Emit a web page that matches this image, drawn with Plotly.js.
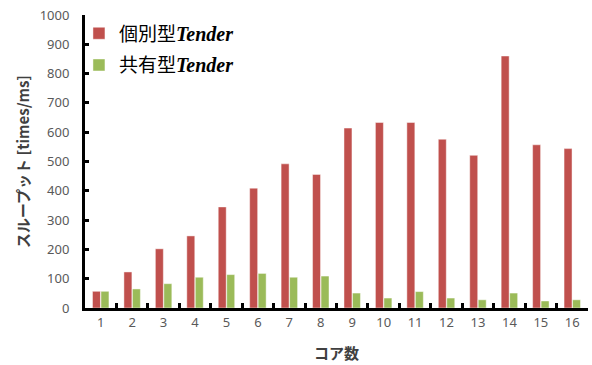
<!DOCTYPE html>
<html>
<head>
<meta charset="utf-8">
<script src="https://cdn.plot.ly/plotly-3.0.1.min.js"></script>
<style>
  html, body { margin: 0; padding: 0; background: #fff; }
  #chart { width: 592px; height: 365px; }
</style>
</head>
<body>
<div id="chart"></div>
<script>
// Core counts on the x axis
const cores = ['1','2','3','4','5','6','7','8','9','10','11','12','13','14','15','16'];
// Throughput [times/ms] for each Tender arrangement
const separateTender = [57, 123, 202, 246, 345, 409, 492, 456, 614, 633, 633, 576, 521, 860, 557, 544];
const sharedTender   = [57, 65, 83, 105, 114, 118, 105, 109, 51, 34, 56, 34, 28, 51, 24, 28];

const tenderWord = '<span style="font-family:\'Liberation Serif\', serif;font-size:20px"><b><i>Tender</i></b></span>';
const seriesNames = ['個別型' + tenderWord, '共有型' + tenderWord];

const tickFont = { family: 'Noto Sans, sans-serif', size: 13, color: '#595959' };
const titleFont = { family: 'Noto Sans CJK JP, sans-serif', size: 15, color: '#404040', weight: 'bold' };

const traces = [
  {
    type: 'bar', name: seriesNames[0], x: cores, y: separateTender, legendgroup: 'separate',
    marker: { color: '#C0504D', line: { color: 'rgba(255,255,255,0.45)', width: 1 } }
  },
  {
    type: 'bar', name: seriesNames[1], x: cores, y: sharedTender, legendgroup: 'shared',
    marker: { color: '#9BBB59', line: { color: 'rgba(255,255,255,0.45)', width: 1 } }
  }
];

const layout = {
  width: 592, height: 365,
  margin: { l: 85, r: 4, t: 15, b: 57 },
  paper_bgcolor: '#fff', plot_bgcolor: '#fff',
  barmode: 'group', bargap: 0.46, bargroupgap: 0.06,
  showlegend: true,
  legend: {
    x: -0.012, y: 1.002, xanchor: 'left', yanchor: 'top',
    bgcolor: 'rgba(0,0,0,0)',
    font: { family: 'Noto Sans CJK JP, sans-serif', size: 19, color: '#000' },
    tracegroupgap: 4, itemwidth: 30
  },
  xaxis: {
    type: 'category',
    showline: true, linecolor: '#000', linewidth: 3,
    ticks: 'inside', tickson: 'boundaries', ticklen: 5, tickwidth: 3, tickcolor: '#000',
    showgrid: false, zeroline: false,
    tickfont: tickFont,
    title: { text: 'コア数', font: titleFont, standoff: 19 },
    range: [-0.5, 15.5]
  },
  yaxis: {
    range: [0, 1000], dtick: 100,
    showline: true, linecolor: '#000', linewidth: 3,
    ticks: 'inside', ticklen: 4, tickwidth: 3, tickcolor: '#000',
    showgrid: false, zeroline: false,
    tickfont: tickFont, ticklabelstandoff: 10,
    title: { text: 'スループット [times/ms]', font: titleFont, standoff: 7 }
  }
};

Plotly.newPlot('chart', traces, layout, { displayModeBar: false, staticPlot: true });
</script>
</body>
</html>
